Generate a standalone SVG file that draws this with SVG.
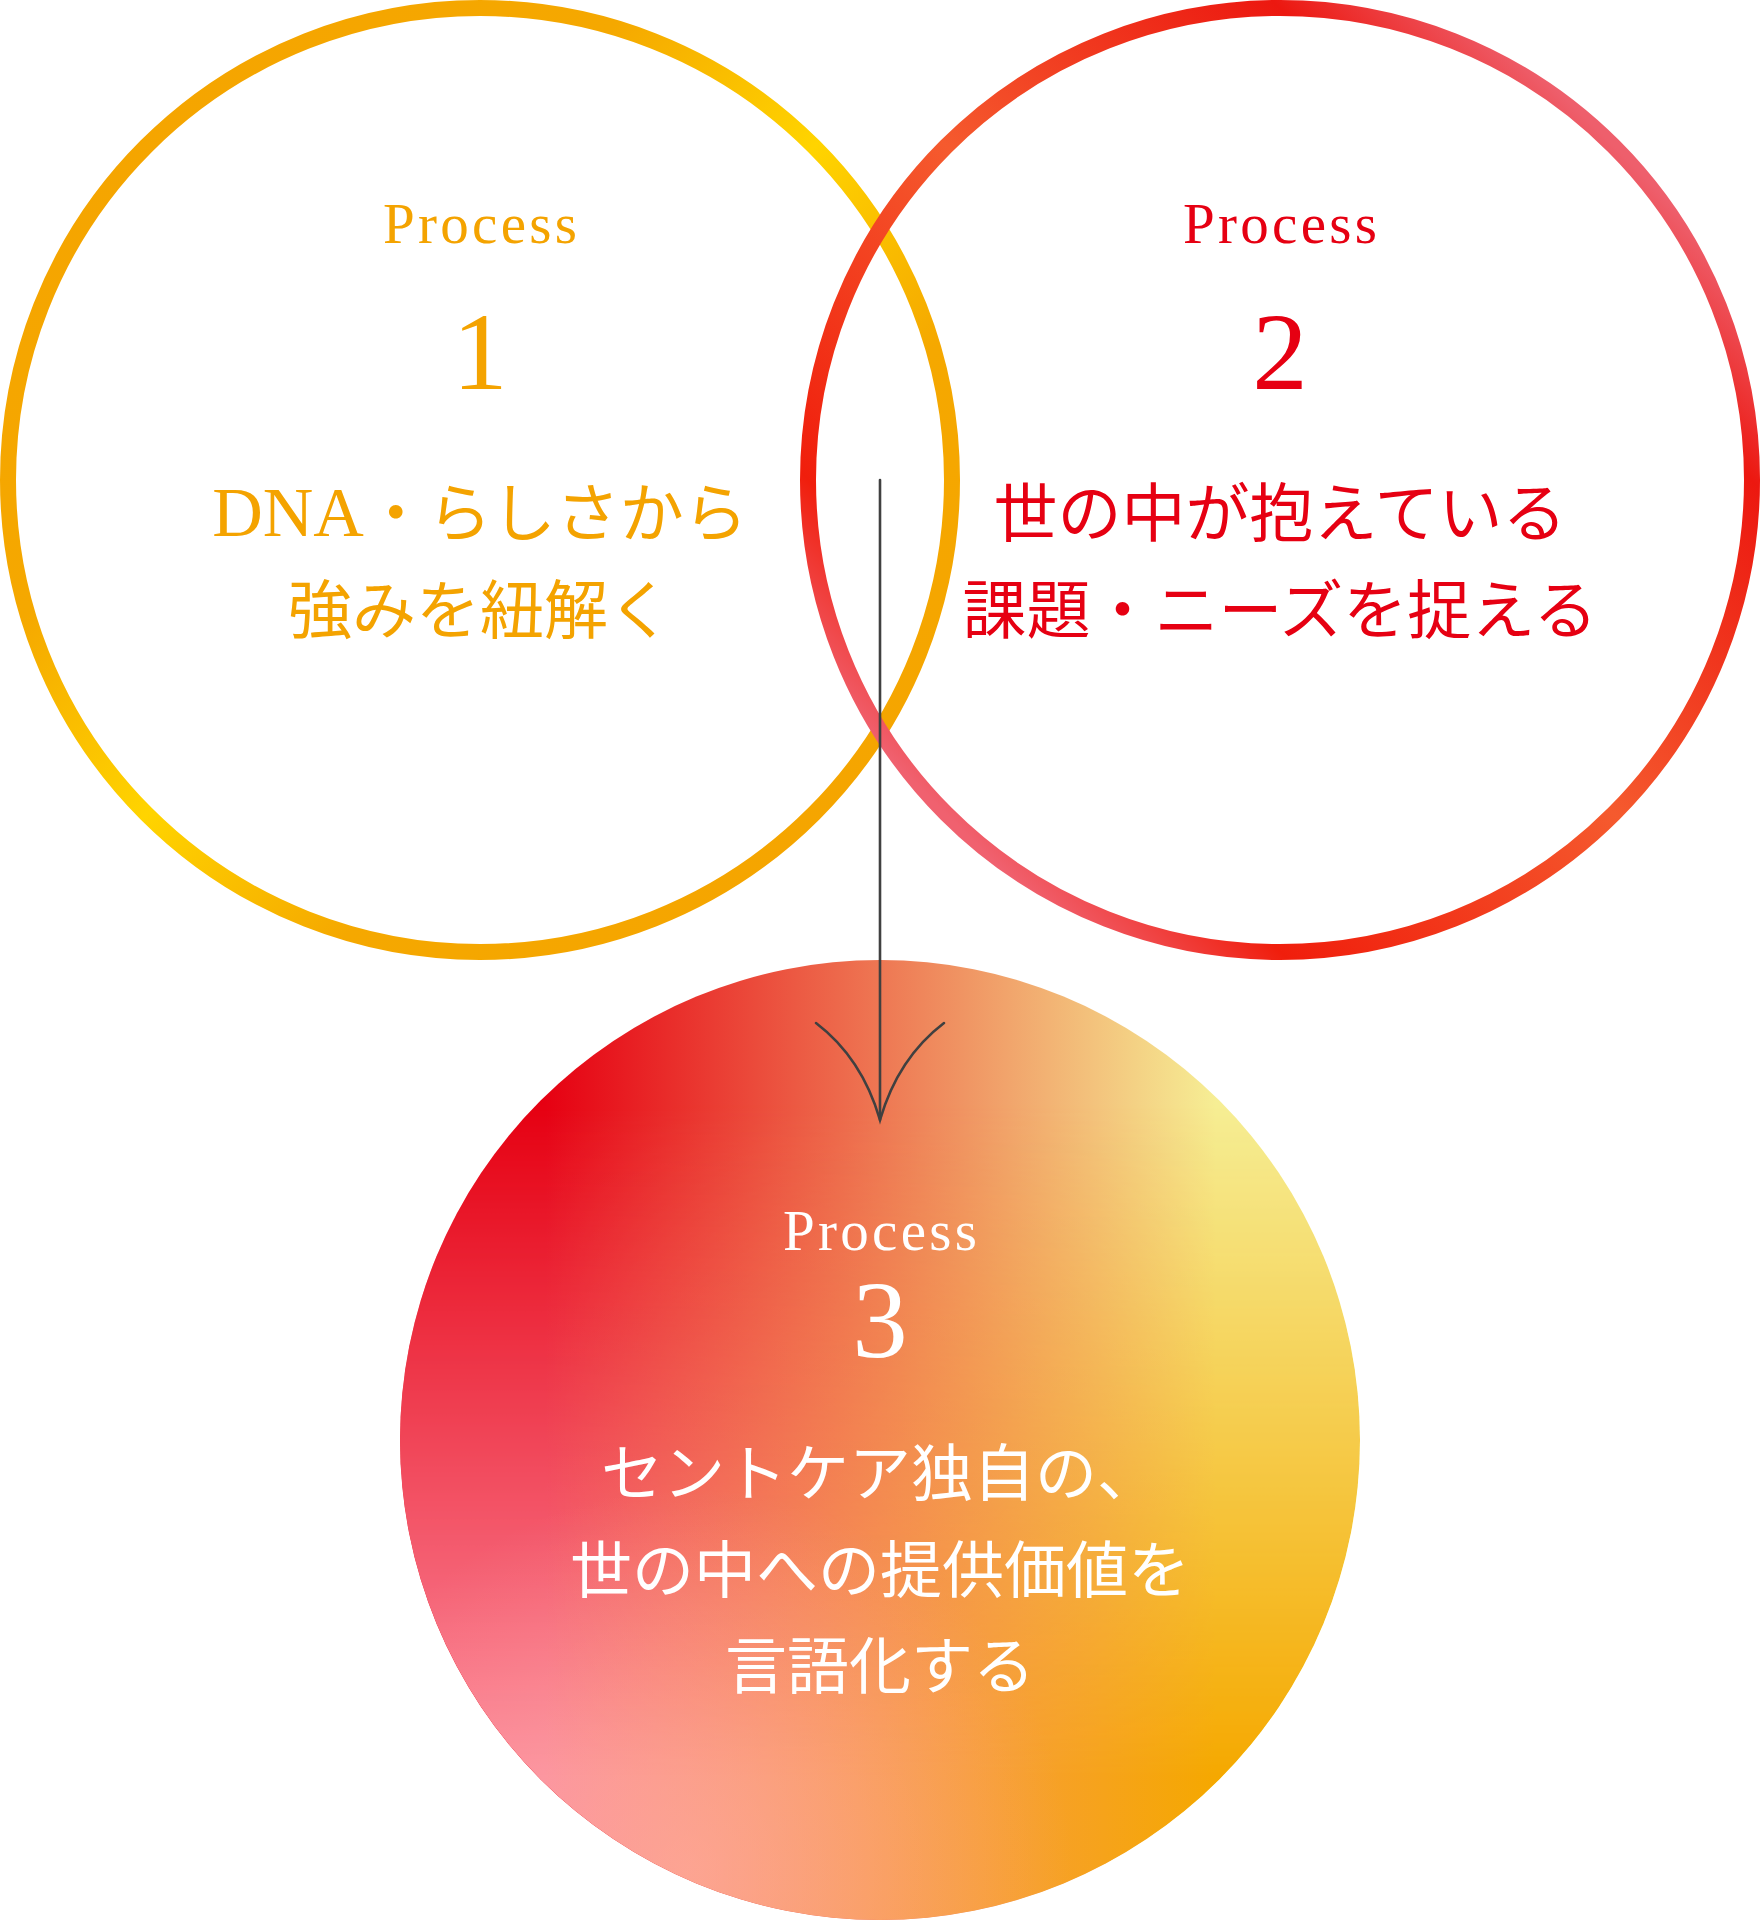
<svg xmlns="http://www.w3.org/2000/svg" width="1760" height="1920" viewBox="0 0 1760 1920">
<defs>
  <linearGradient id="g1" x1="0" y1="0" x2="1" y2="1">
    <stop offset="0" stop-color="#F5A300"/>
    <stop offset="0.33" stop-color="#F5A800"/>
    <stop offset="0.5" stop-color="#FFD400"/>
    <stop offset="0.67" stop-color="#F5A800"/>
    <stop offset="1" stop-color="#F5A300"/>
  </linearGradient>
  <linearGradient id="g2" x1="0" y1="1" x2="1" y2="0">
    <stop offset="0.146" stop-color="#F0616F"/>
    <stop offset="0.25" stop-color="#F01E0C"/>
    <stop offset="0.5" stop-color="#F55A2E"/>
    <stop offset="0.75" stop-color="#EC1810"/>
    <stop offset="0.854" stop-color="#EE5F6C"/>
  </linearGradient>
  <linearGradient id="g3a" x1="0.15" y1="0" x2="0.85" y2="0">
    <stop offset="0" stop-color="#E60012"/>
    <stop offset="1" stop-color="#F6EE94"/>
  </linearGradient>
  <linearGradient id="g3b" x1="0.15" y1="0" x2="0.85" y2="0">
    <stop offset="0" stop-color="#FB8A9E"/>
    <stop offset="1" stop-color="#F5A800"/>
  </linearGradient>
  <linearGradient id="g3m" x1="0" y1="0.15" x2="0" y2="0.85">
    <stop offset="0" stop-color="#FFFFFF" stop-opacity="0"/>
    <stop offset="1" stop-color="#FFFFFF" stop-opacity="1"/>
  </linearGradient>
  <radialGradient id="g3c" cx="0.3" cy="0.95" r="0.4">
    <stop offset="0" stop-color="#FFB4A4" stop-opacity="0.55"/>
    <stop offset="1" stop-color="#FFB4A4" stop-opacity="0"/>
  </radialGradient>
  <mask id="m3" maskUnits="userSpaceOnUse" x="0" y="0" width="1760" height="1920">
    <circle cx="880" cy="1440" r="480" fill="url(#g3m)"/>
  </mask>
</defs>
<style>
  .ring{fill:none;stroke-width:16}
  .proc{font-family:"Liberation Serif",serif;font-size:57px;letter-spacing:3.3px;text-anchor:middle}
  .num{font-family:"Liberation Serif",serif;font-size:111px;text-anchor:middle}
  .jp{font-family:"Liberation Serif","Noto Sans CJK JP",sans-serif;font-size:64px;text-anchor:middle}
  .jp3{font-family:"Liberation Serif","Noto Sans CJK JP",sans-serif;font-size:62px;text-anchor:middle}
  .o{fill:#F4A300}
  .r{fill:#E60012}
  .w{fill:#FFFFFF}
  .conn{fill:none;stroke:#404040;stroke-width:2.6;stroke-linecap:round}
</style>

<g id="node-process3">
  <circle cx="880" cy="1440" r="480" fill="url(#g3a)"/>
  <circle cx="880" cy="1440" r="480" fill="url(#g3b)" mask="url(#m3)"/>
  <circle cx="880" cy="1440" r="480" fill="url(#g3c)"/>
  <text class="proc w" x="881.6" y="1250">Process</text>
  <text class="num w" x="880" y="1357" font-size="106">3</text>
  <text class="jp3 w" x="880" y="1496">セントケア独自の、</text>
  <text class="jp3 w" x="880" y="1593">世の中への提供価値を</text>
  <text class="jp3 w" x="880" y="1689">言語化する</text>
</g>

<g id="node-process1">
  <circle class="ring" cx="480" cy="480" r="472" stroke="url(#g1)"/>
  <text class="proc o" x="481.6" y="243">Process</text>
  <text class="num o" x="480" y="389">1</text>
  <text class="jp o" x="480" y="536"><tspan font-size="70">DNA</tspan>・らしさから</text>
  <text class="jp o" x="480" y="633">強みを紐解く</text>
</g>

<g id="node-process2">
  <circle class="ring" cx="1280" cy="480" r="472" stroke="url(#g2)"/>
  <text class="proc r" x="1281.6" y="243">Process</text>
  <text class="num r" x="1280" y="389">2</text>
  <text class="jp r" x="1280" y="536">世の中が抱えている</text>
  <text class="jp r" x="1280" y="633">課題・ニーズを捉える</text>
</g>

<g id="connectors">
  <line class="conn" x1="880" y1="480" x2="880" y2="1120"/>
  <path class="conn" d="M816 1023 Q862 1058 880 1120 Q898 1058 944 1023"/>
</g>
</svg>
